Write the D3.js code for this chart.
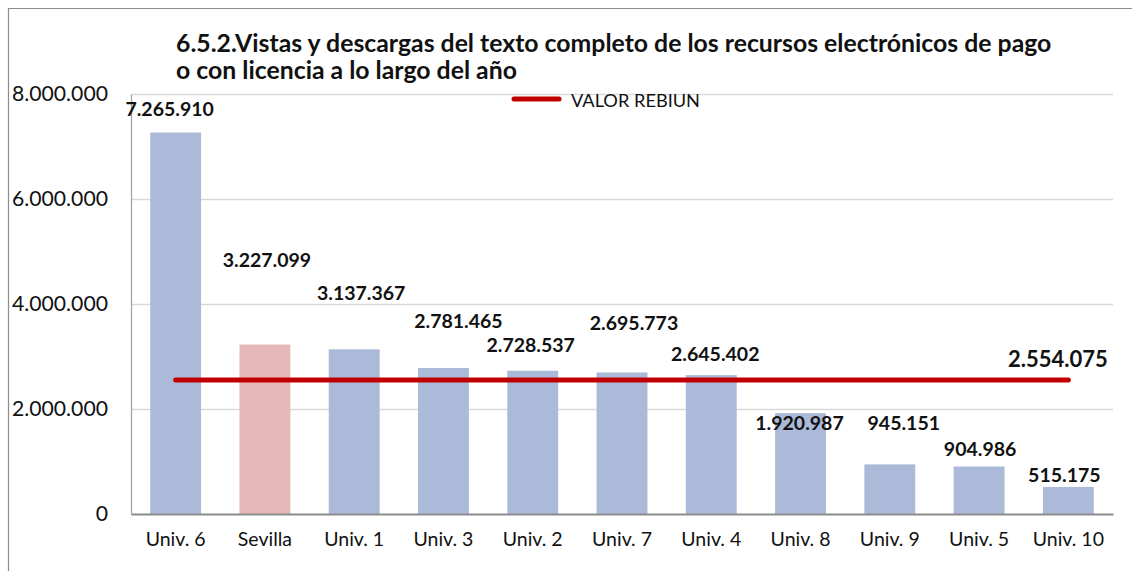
<!DOCTYPE html>
<html>
<head>
<meta charset="utf-8">
<script src="https://cdn.jsdelivr.net/npm/d3@7/dist/d3.min.js"></script>
<style>
  html, body { margin: 0; padding: 0; background: #fff; }
  svg { display: block; font-family: Lato, "Open Sans", sans-serif; }
</style>
</head>
<body>
<svg id="chart" width="1132" height="571"></svg>
<script>
// Full-text views and downloads per university
const categories = ["Univ. 6", "Sevilla", "Univ. 1", "Univ. 3", "Univ. 2", "Univ. 7",
                    "Univ. 4", "Univ. 8", "Univ. 9", "Univ. 5", "Univ. 10"];
const values = [7265910, 3227099, 3137367, 2781465, 2728537, 2695773,
                2645402, 1920987, 945151, 904986, 515175];
const highlight = "Sevilla";
const rebiunValue = 2554075;
const yTicks = [0, 2000000, 4000000, 6000000, 8000000];
const titleLines = ["6.5.2.Vistas y descargas del texto completo de los recursos electrónicos de pago",
                    "o con licencia a lo largo del año"];
const legendLabel = "VALOR REBIUN";

// Hand-placed data-label nudges (px) relative to each bar's centre/top
const labelDx = [-6, 2, 7, 15, -2, 12, 4, -1, 14, 1, -4];
const labelDy = [-24, -85, -57, -47, -26, -50, -22, 9, -42, -18, -12];

const svg = d3.select("#chart");
const margin = { left: 131, right: 1113, top: 94, bottom: 514 };

const fmt = d3.formatLocale({ decimal: ",", thousands: ".", grouping: [3], currency: ["", ""] }).format(",d");

const x = d3.scaleBand().domain(categories).range([margin.left, margin.right]).paddingInner(0.43).paddingOuter(0.215);
const xc = d => x(d) + x.bandwidth() / 2;
const y = d3.scaleLinear().domain([0, 8000000]).range([margin.bottom, margin.top]);

// Outer chart frame
svg.append("path")
  .attr("d", "M8.5,571 L8.5,8.5 L1132,8.5")
  .attr("fill", "none").attr("stroke", "#8c8c8c").attr("stroke-width", 1.2);

// Title
svg.append("g").selectAll("text").data(titleLines).join("text")
  .attr("x", 176).attr("y", (d, i) => 52 + i * 27)
  .attr("font-size", 24.8).attr("font-weight", "bold").attr("fill", "#111")
  .text(d => d);

// Gridlines
svg.append("g").selectAll("line").data(yTicks.filter(t => t > 0)).join("line")
  .attr("x1", margin.left).attr("x2", margin.right)
  .attr("y1", d => Math.round(y(d)) + 0.5).attr("y2", d => Math.round(y(d)) + 0.5)
  .attr("stroke", "#d9d9d9").attr("stroke-width", 1.5);

// Y axis
const yAxis = svg.append("g").attr("transform", `translate(${margin.left},0)`)
  .call(d3.axisLeft(y).tickValues(yTicks).tickSize(0).tickPadding(23).tickFormat(d => fmt(d)));
yAxis.select(".domain").attr("stroke", "#a6a6a6").attr("stroke-width", 1.3);
yAxis.selectAll("text").attr("font-size", 21.2).attr("font-family", "Lato, sans-serif").attr("fill", "#111");

// Bars
svg.append("g").selectAll("rect").data(categories).join("rect")
  .attr("x", d => x(d)).attr("width", x.bandwidth())
  .attr("y", (d, i) => y(values[i])).attr("height", (d, i) => y(0) - y(values[i]))
  .attr("fill", d => d === highlight ? "#e6b8b7" : "#abbad8");

// X axis
const xAxis = svg.append("g").attr("transform", `translate(0,${margin.bottom})`)
  .call(d3.axisBottom(x).tickSize(0).tickPadding(18));
xAxis.select(".domain").attr("stroke", "#8c8c8c").attr("stroke-width", 2);
xAxis.selectAll("text").attr("font-size", 19.5).attr("font-family", "Lato, sans-serif").attr("fill", "#111");

// REBIUN reference line
svg.append("line")
  .attr("x1", xc(categories[0])).attr("x2", xc(categories[categories.length - 1]))
  .attr("y1", y(rebiunValue)).attr("y2", y(rebiunValue))
  .attr("stroke", "#c00000").attr("stroke-width", 5).attr("stroke-linecap", "round");

svg.append("text")
  .attr("x", 1058).attr("y", y(rebiunValue) - 21)
  .attr("text-anchor", "middle").attr("dominant-baseline", "central")
  .attr("font-size", 22).attr("font-weight", "bold").attr("fill", "#111")
  .text(fmt(rebiunValue));

// Data labels
svg.append("g").selectAll("text").data(categories).join("text")
  .attr("x", (d, i) => xc(d) + labelDx[i])
  .attr("y", (d, i) => y(values[i]) + labelDy[i])
  .attr("text-anchor", "middle").attr("dominant-baseline", "central")
  .attr("font-size", 19.5).attr("font-weight", "bold").attr("fill", "#111")
  .text((d, i) => fmt(values[i]));

// Legend
const lg = svg.append("g");
lg.append("line").attr("x1", 514).attr("x2", 559).attr("y1", 99).attr("y2", 99)
  .attr("stroke", "#c00000").attr("stroke-width", 5).attr("stroke-linecap", "round");
lg.append("text").attr("x", 571).attr("y", 100).attr("dominant-baseline", "central")
  .attr("font-size", 18.2).attr("fill", "#111").text(legendLabel);
</script>
</body>
</html>
